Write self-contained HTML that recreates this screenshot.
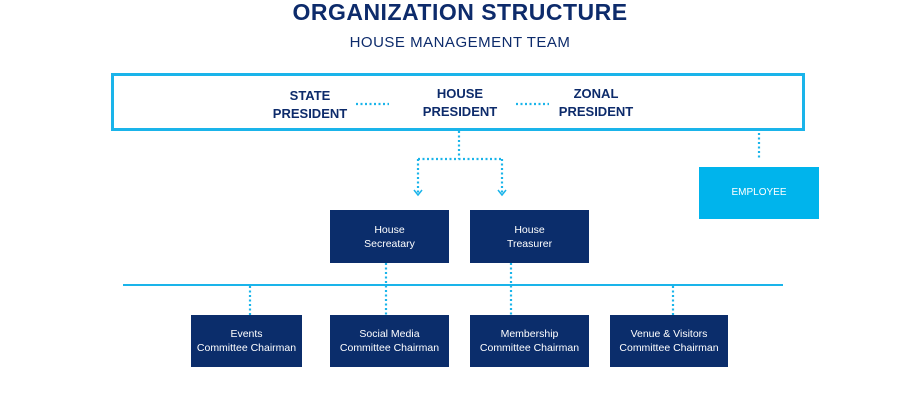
<!DOCTYPE html>
<html><head><style>
body{margin:0;width:920px;height:410px;background:#fff;font-family:"Liberation Sans",sans-serif;position:relative;overflow:hidden}
.t{position:absolute;left:0;width:920px;text-align:center;color:#0d2b6b}
.b{position:absolute;background:#0b2d6b;color:#fff;font-size:10.5px;line-height:14px;display:flex;align-items:center;justify-content:center;text-align:center}
.h{position:absolute;color:#0d2b6b;font-weight:bold;font-size:13px;line-height:18px;text-align:center}
</style></head><body>
<div class="t" style="top:-2px;font-size:23px;font-weight:bold;letter-spacing:0.5px;line-height:28px">ORGANIZATION STRUCTURE</div>
<div class="t" style="top:33px;font-size:15px;letter-spacing:0.5px;line-height:20px">HOUSE MANAGEMENT TEAM</div>
<div style="position:absolute;left:111px;top:73px;width:688px;height:52px;border:3px solid #1ab4ea"></div>
<div class="h" style="left:255px;top:87px;width:110px">STATE<br>PRESIDENT</div>
<div class="h" style="left:405px;top:85px;width:110px">HOUSE<br>PRESIDENT</div>
<div class="h" style="left:541px;top:85px;width:110px">ZONAL<br>PRESIDENT</div>
<svg width="920" height="410" style="position:absolute;left:0;top:0">
<g stroke="#1ab4ea" stroke-width="2.2" fill="none" stroke-dasharray="2,2.5">
<line x1="356" y1="104" x2="389" y2="104"/>
<line x1="516" y1="104" x2="549" y2="104"/>
<line x1="459" y1="131" x2="459" y2="159"/>
<line x1="418" y1="159" x2="502" y2="159"/>
<line x1="418" y1="159" x2="418" y2="193"/>
<line x1="502" y1="159" x2="502" y2="193"/>
<line x1="759" y1="133" x2="759" y2="160"/>
<line x1="386" y1="263" x2="386" y2="315"/>
<line x1="511" y1="263" x2="511" y2="315"/>
<line x1="250" y1="286" x2="250" y2="315"/>
<line x1="673" y1="286" x2="673" y2="315"/>
</g>
<g stroke="#1ab4ea" stroke-width="1.5" fill="none">
<polyline points="414,190 418,195 422,190"/>
<polyline points="498,190 502,195 506,190"/>
</g>
<line x1="123" y1="285" x2="783" y2="285" stroke="#1ab4ea" stroke-width="2"/>
</svg>
<div class="b" style="left:699px;top:167px;width:120px;height:52px;background:#00b4ec;font-size:10px">EMPLOYEE</div>
<div class="b" style="left:330px;top:210px;width:119px;height:53px">House<br>Secreatary</div>
<div class="b" style="left:470px;top:210px;width:119px;height:53px">House<br>Treasurer</div>
<div class="b" style="left:191px;top:315px;width:111px;height:52px">Events<br>Committee Chairman</div>
<div class="b" style="left:330px;top:315px;width:119px;height:52px">Social Media<br>Committee Chairman</div>
<div class="b" style="left:470px;top:315px;width:119px;height:52px">Membership<br>Committee Chairman</div>
<div class="b" style="left:610px;top:315px;width:118px;height:52px">Venue &amp; Visitors<br>Committee Chairman</div>
</body></html>
